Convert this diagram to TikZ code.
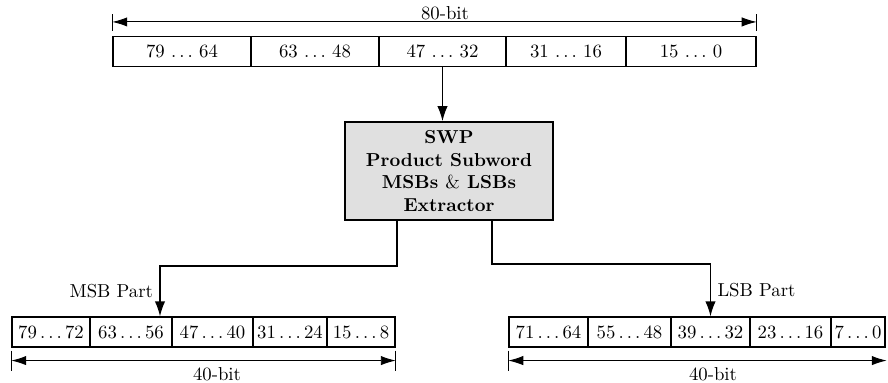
\documentclass[tikz,border=0pt]{standalone}
\usepackage{amsmath}
\usepackage{tikz}
\usetikzlibrary{calc,arrows.meta,positioning}

\begin{document}
\begin{tikzpicture}[
  x=0.5333pt,
  y=-0.5333pt,
  line join=miter,
  >={Latex[length=8pt,width=5.5pt]},
  cell/.style={draw=black,line width=0.8pt,inner sep=0pt,minimum height=15.8pt},
  extractor/.style={draw=black,line width=0.8pt,fill=black!12,align=center,
    font=\bfseries,minimum width=111pt,minimum height=52.3pt,inner sep=0pt},
  wire/.style={black,line width=0.8pt},
  span/.style={black,line width=0.5pt,{Latex[length=8pt,width=5pt]}-{Latex[length=8pt,width=5pt]}},
  tick/.style={black,line width=0.5pt}
]
\path[use as bounding box] (0,0) rectangle (888,383);

% 80-bit product word
\node[cell,minimum width=73.6pt] (w1) at (182,51.5) {79 $\ldots$ 64};
\node[cell,minimum width=68.3pt] (w2) at (315,51.5) {63 $\ldots$ 48};
\node[cell,minimum width=67.7pt] (w3) at (442.5,51.5) {47 $\ldots$ 32};
\node[cell,minimum width=64.0pt] (w4) at (566,51.5) {31 $\ldots$ 16};
\node[cell,minimum width=69.3pt] (w5) at (691,51.5) {15 $\ldots$ 0};

\draw[tick] ($(w1.north west)+(0,-5)$) -- ++(0,-17);
\draw[tick] ($(w5.north east)+(0,-5)$) -- ++(0,-17);
\draw[span] ($(w1.north west)+(0,-14)$) -- ($(w5.north east)+(0,-14)$);
\node (wordlen) at (445,13) {80-bit};

% extractor
\node[extractor] (swp) at (449,171)
  {SWP\\Product Subword\\MSBs $\&$ LSBs\\Extractor};

% MSB part
\node[cell,minimum width=41.6pt] (m1) at (51,332) {$79\ldots72$};
\node[cell,minimum width=43.7pt] (m2) at (131,332) {$63\ldots56$};
\node[cell,minimum width=43.2pt] (m3) at (212.5,332) {$47\ldots40$};
\node[cell,minimum width=39.5pt] (m4) at (290,332) {$31\ldots24$};
\node[cell,minimum width=36.3pt] (m5) at (361,332) {$15\ldots8$};

\draw[tick] ($(m1.south west)+(0,3)$) -- ++(0,20);
\draw[tick] ($(m5.south east)+(0,3)$) -- ++(0,20);
\draw[span] ($(m1.south west)+(0,13)$) -- ($(m5.south east)+(0,13)$);
\node (msblen) at (217,374) {40-bit};

% LSB part
\node[cell,minimum width=42.1pt] (l1) at (548.5,332) {$71\ldots64$};
\node[cell,minimum width=44.3pt] (l2) at (629.5,332) {$55\ldots48$};
\node[cell,minimum width=42.1pt] (l3) at (710.5,332) {$39\ldots32$};
\node[cell,minimum width=43.2pt] (l4) at (790.5,332) {$23\ldots16$};
\node[cell,minimum width=28.8pt] (l5) at (858,332) {$7\ldots0$};

\draw[tick] ($(l1.south west)+(0,3)$) -- ++(0,20);
\draw[span] ($(l1.south west)+(0,13)$) -- ($(l5.south east)+(1,13)$);
\node (lsblen) at (713,374) {40-bit};

% connections
\draw[wire,->] (w3.south) -- (w3.south |- swp.north);
\draw[wire,->] ($(swp.south)+(-52,0)$) -- ++(0,45)
  -| ($(m2.north)+(29,0)$) node[pos=0.75,left] {MSB Part};
\draw[wire,->] ($(swp.south)+(43,0)$) -- ++(0,43)
  -| (l3.north) node[pos=0.75,right] {LSB Part};
\end{tikzpicture}
\end{document}
